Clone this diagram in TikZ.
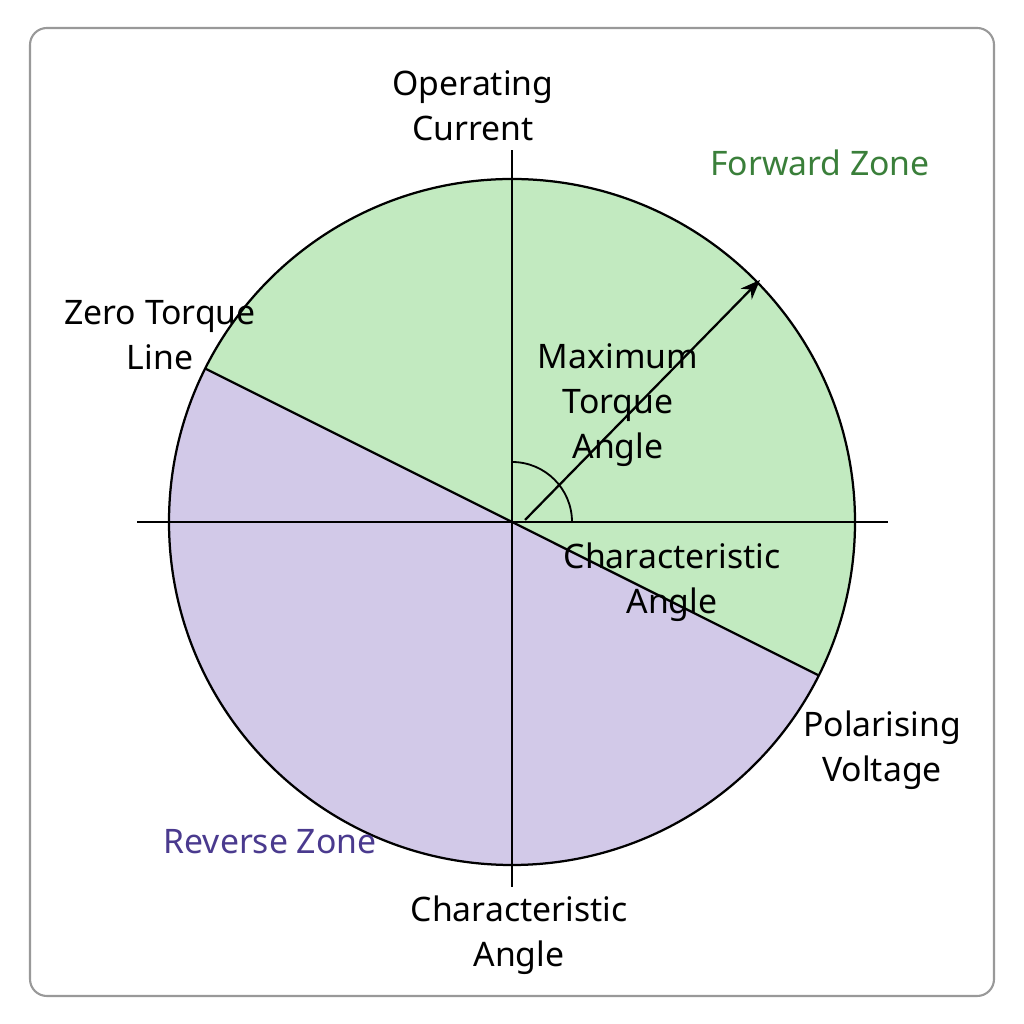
\documentclass[tikz,border=0pt]{standalone}
\usepackage{fontspec}
\setmainfont{Noto Sans}
\usetikzlibrary{positioning,arrows.meta,calc}
\definecolor{fwdfill}{HTML}{C2EAC0}
\definecolor{revfill}{HTML}{D2C9E8}
\definecolor{fwdtext}{HTML}{3A7F3A}
\definecolor{revtext}{HTML}{4A3A8E}
\tikzset{
  lbl/.style={align=center, font=\fontsize{24}{32}\selectfont},
  axis/.style={line width=1.6pt},
}
\begin{document}
\begin{tikzpicture}[x=0.025cm, y=0.025cm]
  \useasboundingbox (0,0) rectangle (1024,1024);
  \draw[gray!80, line width=1.5pt, rounded corners=12] (30,28) rectangle (994,996);

  \coordinate (O) at (512,502);
  % zones
  \fill[fwdfill] (O) -- ++(153.43:343) arc[start angle=153.43, end angle=-26.57, radius=343] -- cycle;
  \fill[revfill] (O) -- ++(-26.57:343) arc[start angle=-26.57, end angle=-206.57, radius=343] -- cycle;

  % axes
  \coordinate (L) at (137,502);
  \coordinate (R) at (888,502);
  \coordinate (T) at (512,874);
  \coordinate (B) at (512,137);
  \draw[axis] (L) -- (R);
  \draw[axis] (B) -- (T);
  \draw[axis] (O) circle[radius=343];

  % zero torque line
  \coordinate (Z1) at ($(O)+(153.43:343)$);
  \coordinate (Z2) at ($(O)+(-26.57:343)$);
  \draw[axis] (Z1) -- (Z2);

  % maximum torque arrow and angle
  \coordinate (A0) at (525,504);
  \coordinate (A1) at (760,744);
  \draw[axis, -{Stealth[length=14pt, width=11pt]}] (A0) -- (A1);
  \draw[line width=1.3pt] ($(O)+(60,0)$) arc[start angle=0, end angle=90, radius=60];

  % labels
  \node[lbl] (opcur) at (473,918) {Operating\\Current};
  \node[lbl, text=fwdtext] (fwd) at (820,861) {Forward Zone};
  \node[lbl] (ztl) at (160,689) {Zero Torque\\Line};
  \node[lbl] (mta) at (618,619) {Maximum\\Torque\\Angle};
  \node[lbl] (ca1) at (672,442) {Characteristic\\Angle};
  \node[lbl] (pol) at (882,274) {Polarising\\Voltage};
  \node[lbl, text=revtext] (rev) at (270,182) {Reverse Zone};
  \node[lbl] (ca2) at (519,89) {Characteristic\\Angle};
\end{tikzpicture}
\end{document}
